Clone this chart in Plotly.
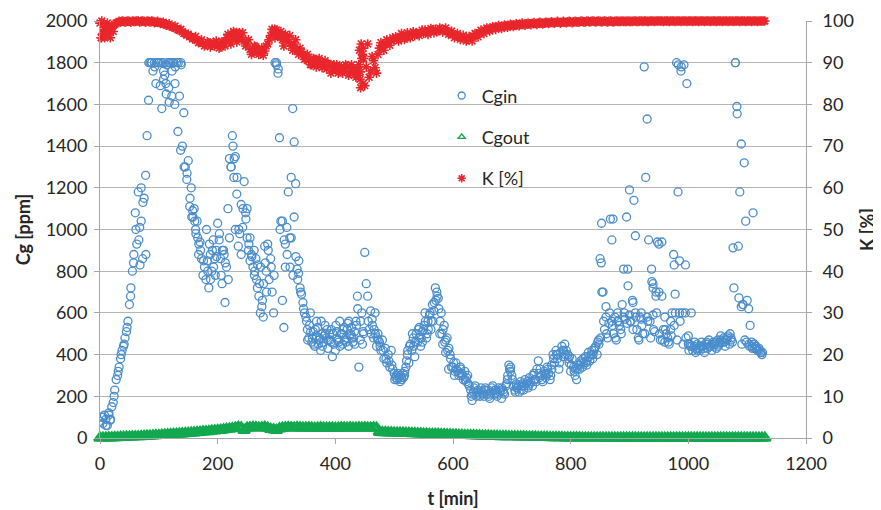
import plotly.graph_objects as go

# ---------------- data ----------------
# Cgin [ppm], sampled every 2.5 min starting at t = 0
STEP_IN = 2.5
cgin = [
    80, 100, 70, 110, 90, 60, 120, 85, 150, 170, 230, 280, 300, 340, 380, 420, 440, 480, 510, 560,
    640, 720, 800, 880, 1080, 930, 1180, 1010, 1200, 860, 1150, 1260, 1450, 1620, 1800, 1800, 1760, 1800, 1700, 1800,
    1800, 1690, 1580, 1800, 1740, 1650, 1800, 1610, 1800, 1760, 1800, 1700, 1800, 1470, 1640, 1800, 1400, 1560, 1300, 1240,
    1330, 1110, 1200, 1090, 1100, 1000, 1040, 880, 940, 860, 780, 820, 760, 850, 720, 880, 800, 950, 860, 900,
    1030, 950, 860, 740, 900, 650, 820, 1100, 1340, 1300, 1450, 1250, 1350, 1170, 920, 980, 880, 1010, 1230, 1080,
    960, 900, 850, 880, 820, 780, 860, 720, 680, 600, 630, 580, 920, 800, 930, 760, 860, 700, 600, 1800,
    1790, 1750, 1440, 1040, 660, 530, 820, 1010, 1180, 960, 1250, 1580, 1420, 1220, 810, 790, 720, 690, 650, 600,
    580, 520, 480, 600, 460, 510, 440, 490, 530, 470, 420, 500, 460, 540, 480, 430, 500, 460, 390, 450,
    420, 510, 470, 560, 500, 450, 530, 480, 520, 440, 490, 530, 460, 510, 560, 680, 340, 470, 600, 510,
    890, 740, 680, 520, 610, 570, 480, 600, 440, 500, 460, 420, 470, 380, 430, 360, 400, 340, 420, 330,
    310, 290, 280, 300, 270, 290, 310, 300, 340, 400, 360, 450, 420, 480, 390, 500, 460, 530, 440, 510,
    520, 600, 480, 560, 590, 520, 640, 610, 720, 700, 670, 500, 600, 450, 540, 410, 480, 330, 400, 340,
    340, 300, 360, 320, 300, 340, 310, 280, 320, 270, 300, 250, 230, 180, 220, 250, 200, 230, 210, 240,
    220, 200, 240, 210, 230, 190, 220, 250, 210, 230, 200, 240, 220, 190, 230, 210, 250, 280, 350, 320,
    300, 250, 230, 260, 240, 220, 270, 250, 230, 280, 260, 240, 290, 270, 250, 310, 280, 330, 370, 290,
    300, 270, 320, 290, 340, 310, 280, 350, 400, 360, 420, 380, 330, 410, 440, 390, 450, 420, 400, 360,
    320, 380, 340, 300, 280, 350, 330, 370, 340, 360, 390, 350, 410, 370, 400, 380, 420, 440, 400, 470,
    860, 1030, 700, 520, 630, 480, 550, 1050, 950, 500, 580, 470, 600, 540, 520, 640, 810, 570, 1060, 730,
    1190, 560, 660, 1140, 970, 520, 480, 580, 600, 500, 1780, 1250, 1530, 950, 560, 810, 740, 510, 700, 940,
    930, 470, 680, 520, 460, 500, 480, 450, 560, 600, 880, 690, 1800, 1180, 850, 1760, 600, 1790, 830, 1700,
    490, 450, 600, 420, 440, 410, 450, 430, 420, 460, 440, 410, 450, 430, 470, 440, 420, 460, 450, 430,
    470, 450, 490, 460, 480, 440, 470, 490, 450, 480, 460, 720, 1800, 1590, 920, 1180, 1410, 640, 1320, 1040,
    660, 620, 540, 460, 1080, 450, 440, 420, 430, 410, 400,
]
t_cgin = [i * STEP_IN for i in range(len(cgin))]

# additional Cgin readings (t [min], value [ppm])
t_cgin_extra = [83, 88, 93, 98, 103, 108, 113, 118, 123, 128, 133, 138, 112, 117, 122, 127, 108,
                70, 73, 66, 61, 68, 78, 300, 303, 310, 315, 325, 330, 333, 338,
                220, 230, 240, 250, 255, 262, 268, 273, 278, 283, 181, 186, 191, 196, 206, 211,
                163, 168, 158, 148, 143, 137,
                976, 978, 985, 995, 983, 988, 1000, 1076, 1083, 1086, 1090, 1093, 1080,
                852, 853, 872, 897, 906, 938, 940, 950, 955, 945, 860, 870, 880, 890, 900, 910,
                920, 930, 940, 960, 970,
                353, 358, 363, 368, 373, 378, 383, 388, 393, 403, 408, 413, 418, 423, 428, 433,
                438, 443, 448, 463, 468, 473, 503, 508, 513, 518, 523, 533, 543, 548, 553, 558,
                563, 568, 573, 578, 583, 588, 593, 603, 613, 623, 633, 643, 653, 663, 673, 683,
                693, 698, 708, 718, 728, 738, 748, 758, 768, 778, 788, 798, 808, 818, 828, 838,
                848, 1003, 1013, 1023, 1033, 1043, 1053, 1063, 1073, 1103, 1108, 1113, 1118, 1123]
cgin_extra = [1800, 1800, 1780, 1800, 1800, 1760, 1790, 1800, 1800, 1780, 1800, 1790, 1700, 1680, 1640, 1600, 1720,
              1040, 1130, 950, 1000, 830, 880, 1800, 1770, 1040, 930, 960, 1060, 870, 850,
              960, 1000, 1120, 1100, 960, 900, 830, 820, 740, 700, 1000, 930, 900, 780, 780, 880,
              980, 930, 1060, 1270, 1300, 1380,
              830, 600, 600, 600, 1790, 1780, 450, 912, 1555, 672, 630, 640, 1800,
              840, 700, 1050, 810, 650, 750, 720, 700, 940, 680, 580, 560, 560, 580, 590, 600,
              570, 580, 590, 580, 520,
              470, 510, 450, 560, 480, 440, 500, 470, 520, 480, 440, 520, 460, 560, 480, 450,
              620, 560, 500, 540, 500, 470, 300, 290, 280, 320, 420, 440, 480, 460, 560, 520,
              560, 650, 680, 560, 520, 470, 430, 320, 330, 290, 210, 220, 230, 210, 220, 240,
              300, 340, 240, 260, 250, 280, 330, 300, 330, 400, 420, 390, 330, 360, 370, 400,
              450, 440, 430, 440, 450, 440, 460, 470, 470, 450, 440, 430, 420, 410]

# more Cgin readings (second pass over the dense cloud)
t_cgin_more = [5, 10, 15, 18, 24, 31, 36, 41, 46, 52, 57,
               153, 156, 161, 166, 171, 176, 183, 188, 193, 198, 203, 208, 213, 218, 223, 226, 228,
               233, 236, 243, 248, 253, 258, 263, 266, 271, 276, 281, 286, 291, 296, 306, 313, 318,
               323, 328, 336, 341, 346, 351,
               356, 361, 366, 371, 376, 381, 386, 391, 396, 401, 406, 411, 416, 421, 426, 431, 436, 446,
               456, 461, 466, 471, 476, 481, 486, 491, 496, 501, 506, 511, 516, 521, 526, 531, 536, 541, 546,
               551, 556, 561, 566, 571, 576, 581, 586, 591, 596, 601, 606, 611, 616, 621, 626, 631, 636, 641, 646,
               651, 656, 661, 666, 671, 676, 681, 686, 691, 696, 701, 706, 711, 716, 721, 726, 731, 736, 741, 746,
               751, 756, 761, 766, 771, 776, 781, 786, 791, 796, 801, 806, 811, 816, 821, 826, 831, 836, 841, 846,
               851, 856, 861, 866, 871, 876, 881, 886, 891, 896, 901, 906, 911, 916, 921, 926, 931, 936, 941, 946,
               951, 956, 961, 966, 971, 976, 981, 986, 991, 996, 1001, 1006, 1011, 1016, 1021, 1026, 1031, 1036,
               1041, 1046, 1051, 1056, 1061, 1066, 1071, 1091, 1096, 1099, 1104, 1109, 1111, 1116, 1121, 1126]
cgin_more = [100, 60, 110, 90, 200, 320, 400, 450, 530, 680, 840,
             1150, 1060, 1040, 960, 900, 850, 800, 760, 820, 870, 980, 900, 840, 760, 1300, 1400, 1340,
             1250, 1000, 1100, 1050, 930, 870, 800, 760, 740, 660, 840, 900, 820, 780, 1000, 950, 880,
             820, 780, 760, 700, 620, 560,
             540, 480, 520, 450, 560, 490, 520, 470, 500, 540, 460, 500, 470, 550, 500, 480, 540, 450,
             560, 500, 520, 480, 440, 420, 380, 370, 350, 280, 310, 300, 290, 370, 440, 500, 460, 520, 480,
             540, 500, 600, 560, 660, 620, 500, 460, 420, 380, 360, 330, 310, 300, 280, 260, 200, 240, 220, 200,
             210, 230, 200, 240, 230, 210, 230, 220, 260, 330, 280, 220, 250, 230, 250, 270, 260, 300, 270, 310,
             280, 310, 330, 300, 380, 400, 360, 420, 400, 380, 350, 320, 330, 350, 380, 360, 390, 420, 430, 460,
             480, 560, 500, 600, 540, 480, 560, 500, 600, 550, 560, 520, 580, 470, 540, 500, 560, 480, 520, 600,
             500, 470, 520, 460, 490, 540, 470, 560, 450, 480, 420, 440, 460, 420, 440, 430, 460, 440,
             450, 460, 440, 470, 460, 480, 500, 450, 470, 460, 440, 430, 450, 430, 420, 410]

# Cgout [ppm], sampled every 5 min starting at t = 0
STEP_OUT = 5
cgout = [
    0, 1, 1, 2, 2, 3, 3, 4, 4, 5,
    5, 6, 7, 7, 8, 9, 10, 10, 11, 12,
    13, 14, 15, 16, 17, 18, 19, 20, 21, 22,
    23, 24, 26, 27, 28, 30, 31, 32, 34, 35,
    37, 38, 40, 42, 44, 46, 48, 52, 50, 38,
    48, 50, 52, 51, 49, 50, 52, 48, 42, 40,
    38, 45, 48, 50, 51, 50, 49, 51, 50, 48,
    49, 50, 48, 47, 49, 50, 48, 47, 49, 48,
    47, 48, 50, 49, 48, 50, 49, 48, 50, 49,
    50, 49, 48, 50, 49, 28, 27, 27, 26, 26,
    25, 25, 24, 24, 23, 23, 22, 22, 21, 21,
    20, 20, 19, 19, 18, 18, 17, 17, 16, 16,
    15, 15, 14, 14, 13, 13, 12, 12, 11, 11,
    10, 10, 10, 9, 9, 9, 8, 8, 8, 7,
    7, 7, 6, 6, 6, 5, 5, 5, 5, 4,
    4, 4, 4, 3, 3, 3, 3, 3, 2, 2,
    2, 2, 2, 2, 1, 1, 1, 1, 1, 1,
    1, 1, 0, 0, 0, 0, 0, 0, 0, 0,
    0, 0, 0, 0, 0, 0, 0, 0, 0, 0,
    0, 0, 0, 0, 0, 0, 0, 0, 0, 0,
    0, 0, 0, 0, 0, 0, 0, 0, 0, 0,
    0, 0, 0, 0, 0, 0, 0, 0, 0, 0,
    0, 0, 0, 0, 0, 0, 0,
]
t_cgout = [i * STEP_OUT for i in range(len(cgout))]

# K [%], sampled every 5 min starting at t = 0
STEP_K = 5
k_pct = [
    99.5, 97.0, 96.5, 97.5, 98.5, 99.2, 99.6, 99.8, 99.9, 99.9,
    99.9, 100, 99.9, 100, 99.9, 99.9, 100, 99.8, 99.9, 99.7,
    99.7, 99.5, 99.3, 99.1, 98.8, 98.5, 98.2, 97.8, 97.4, 97.0,
    96.8, 96.3, 95.8, 95.3, 95.0, 94.6, 94.3, 94.8, 94.2, 94.0,
    94.5, 93.8, 95.0, 96.0, 95.2, 96.5, 95.8, 97.0, 96.0, 95.2,
    94.5, 93.2, 92.5, 93.8, 92.0, 93.5, 92.8, 94.5, 96.5, 97.5,
    97.8, 96.5, 95.5, 96.8, 95.0, 94.0, 94.5, 93.0, 93.5, 92.0,
    91.0, 90.5, 89.5, 90.8, 89.8, 90.2, 89.5, 88.5, 89.5, 88.0,
    88.5, 87.5, 89.0, 88.0, 89.2, 87.8, 88.5, 86.5, 89.5, 91.0,
    84.5, 94.5, 88.0, 90.5, 87.5, 93.5, 94.0, 94.5, 95.0, 95.2,
    95.5, 95.8, 96.0, 96.3, 96.0, 96.5, 96.8, 96.5, 97.0, 97.2,
    97.0, 97.4, 97.6, 97.8, 98.0, 97.7, 98.0, 97.9, 97.5, 97.0,
    96.8, 96.5, 96.2, 96.0, 95.8, 95.6, 96.0, 96.4, 96.8, 97.2,
    97.5, 97.8, 98.0, 98.2, 98.4, 98.5, 98.6, 98.7, 98.8, 98.9,
    99.0, 99.0, 99.1, 99.2, 99.2, 99.3, 99.3, 99.4, 99.4, 99.5,
    99.5, 99.5, 99.6, 99.6, 99.6, 99.7, 99.7, 99.7, 99.7, 99.8,
    99.8, 99.8, 99.8, 99.8, 99.9, 99.8, 99.9, 99.9, 99.9, 99.9,
    99.9, 99.9, 99.9, 99.9, 99.9, 99.9, 99.9, 99.9, 99.9, 99.9,
    99.9, 99.9, 100, 99.9, 100, 100, 99.9, 100, 100, 100,
    100, 100, 100, 100, 100, 100, 100, 100, 100, 100,
    100, 100, 100, 100, 100, 100, 100, 100, 100, 100,
    100, 100, 100, 100, 100, 100, 100, 100, 100, 100,
    100, 100, 100, 100, 100, 100, 100,
]
t_k = [i * STEP_K for i in range(len(k_pct))]

# K [%], readings in between (t = 2.5, 7.5, 12.5, ...)
k_pct_mid = [
    96.0, 98.5, 99.5, 96.0, 97.5, 99.5, 99.9, 100, 99.7, 100,
    99.7, 99.9, 100, 99.8, 100, 99.7, 99.9, 100, 99.6, 99.9,
    99.4, 99.7, 99.0, 99.3, 98.5, 98.8, 97.9, 98.0, 97.0, 96.6,
    96.2, 95.7, 96.3, 94.8, 95.5, 94.0, 95.0, 93.8, 94.8, 95.2,
    93.5, 95.0, 94.0, 96.8, 94.5, 97.2, 95.0, 96.0, 97.2, 94.0,
    95.5, 92.0, 94.0, 92.5, 93.0, 91.8, 94.0, 95.5, 98.0, 96.0,
    96.5, 97.5, 94.0, 95.5, 96.5, 93.0, 95.5, 92.0, 92.5, 90.8,
    92.0, 89.5, 91.0, 89.0, 91.0, 88.8, 90.5, 89.8, 87.5, 89.5,
    89.5, 88.8, 87.5, 89.5, 87.0, 89.5, 87.0, 88.5, 87.8, 93.5,
    89.0, 86.5, 91.5, 88.8, 92.0, 94.8, 93.0, 95.5, 94.2, 96.0,
    96.2, 95.2, 97.0, 95.6, 97.2, 96.0, 97.4, 97.2, 96.5, 97.8,
    97.8, 96.8, 98.2, 97.2, 97.5, 98.3, 97.4, 98.3, 96.8, 97.6,
    96.0, 97.0, 95.6, 96.6, 95.2, 96.3, 95.2, 97.0, 96.2, 97.8,
    97.0, 98.3, 97.6, 98.6, 98.0, 98.9, 98.2, 99.0, 98.5, 99.2,
    98.7, 99.3, 98.9, 99.5, 99.0, 99.5, 99.1, 99.6, 99.2, 99.7,
    99.3, 99.7, 99.4, 99.8, 99.5, 99.9, 99.5, 99.9, 99.6, 99.9,
    99.6, 99.9, 99.7, 100, 99.7, 100, 99.8, 100, 99.8, 100,
    99.8, 100, 99.8, 100, 99.8, 100, 99.9, 100, 99.9, 100,
    99.9, 100, 99.9, 100, 99.9, 100, 99.9, 100, 99.9, 100,
    100, 99.9, 100, 99.9, 100, 99.9, 100, 99.9, 100, 99.9,
    100, 99.9, 100, 99.9, 100, 99.9, 100, 99.9, 100, 99.9,
    100, 99.9, 100, 99.9, 100, 99.9, 100, 99.9, 100, 99.9,
    100, 99.9, 100, 99.9, 100, 100,
]
t_k_mid = [2.5 + i * STEP_K for i in range(len(k_pct_mid))]

# additional K readings (t [min], K [%])
t_k_extra = [441, 442, 443, 444, 446, 447, 448, 439, 2, 3, 7, 8, 12, 13, 227, 232, 237, 297, 302, 307]
k_extra = [93, 86, 84, 94.5, 92, 85, 91, 87, 96, 100, 98, 96, 99, 97, 97.5, 96.5, 97.2, 98.0, 97.0, 96.2]

SERIES = ["Cgin", "Cgout", "K [%]"]

# ---------------- figure ----------------
BLUE = "#4a8dcc"
GREEN = "#12a84e"
RED = "#e8262b"
FONT = "Lato, 'Open Sans', sans-serif"
TXT = "#262626"

fig = go.Figure()
fig.add_trace(go.Scatter(
    x=t_cgin + t_cgin_extra + t_cgin_more, y=cgin + cgin_extra + cgin_more,
    mode="markers", name=SERIES[0], showlegend=False,
    marker=dict(symbol="circle-open", size=8, color=BLUE, line=dict(width=1.3, color=BLUE)),
))
fig.add_trace(go.Scatter(
    x=t_cgout, y=cgout, mode="markers", name=SERIES[1], showlegend=False, cliponaxis=False,
    marker=dict(symbol="triangle-up-open", size=10, color=GREEN, line=dict(width=2.6, color=GREEN)),
))
fig.add_trace(go.Scatter(
    x=t_k + t_k_mid + t_k_extra, y=k_pct + k_pct_mid + k_extra, mode="markers", name=SERIES[2],
    yaxis="y2", cliponaxis=False, showlegend=False,
    marker=dict(symbol="asterisk-open", size=8, color=RED, line=dict(width=1.6, color=RED)),
))

# legend entries (small symbols, as in the original legend)
legend_styles = [("circle-open", BLUE, 7, 1.3), ("triangle-up-open", GREEN, 6, 1.4),
                 ("asterisk-open", RED, 7, 1.6)]
for i, (name, (sym, col, sz, lw)) in enumerate(zip(SERIES, legend_styles)):
    fig.add_trace(go.Scatter(
        x=[None], y=[None], mode="markers", name=name, legendgroup=f"g{i}",
        marker=dict(symbol=sym, size=sz, color=col, line=dict(width=lw, color=col)),
    ))

axis_common = dict(
    showline=True, linecolor="#a6a6a6", linewidth=1,
    ticks="outside", ticklen=5, tickcolor="#a6a6a6",
    zeroline=False, automargin=False,
    tickfont=dict(size=18, color=TXT, family=FONT),
)

# the page adds an 8 px body margin, so the figure is 8 px smaller and shifted
fig.update_layout(
    width=873, height=502,
    margin=dict(l=92, r=75, t=13, b=72),
    paper_bgcolor="white", plot_bgcolor="white",
    font=dict(family=FONT, size=18, color=TXT),
    showlegend=True,
    legend=dict(x=0.484, y=0.865, xanchor="left", yanchor="top",
                bgcolor="rgba(0,0,0,0)", font=dict(size=18, color=TXT),
                tracegroupgap=15, itemwidth=30),
    xaxis=dict(range=[0, 1200], dtick=200, showgrid=False, ticklabelstandoff=4,
               title=dict(text="<b>t [min]</b>", font=dict(size=18, color=TXT), standoff=19),
               **axis_common),
    yaxis=dict(range=[0, 2000], dtick=200, showgrid=True, gridcolor="#b5b5b5", gridwidth=1,
               ticklabelstandoff=3,
               title=dict(text="<b>Cg [ppm]</b>", font=dict(size=18, color=TXT), standoff=10),
               **axis_common),
    yaxis2=dict(range=[0, 100], dtick=10, overlaying="y", side="right", showgrid=False,
                ticklabelstandoff=7,
                title=dict(text="<b>K [%]</b>", font=dict(size=18, color=TXT), standoff=8),
                **axis_common),
)

fig.write_html("out.html")
